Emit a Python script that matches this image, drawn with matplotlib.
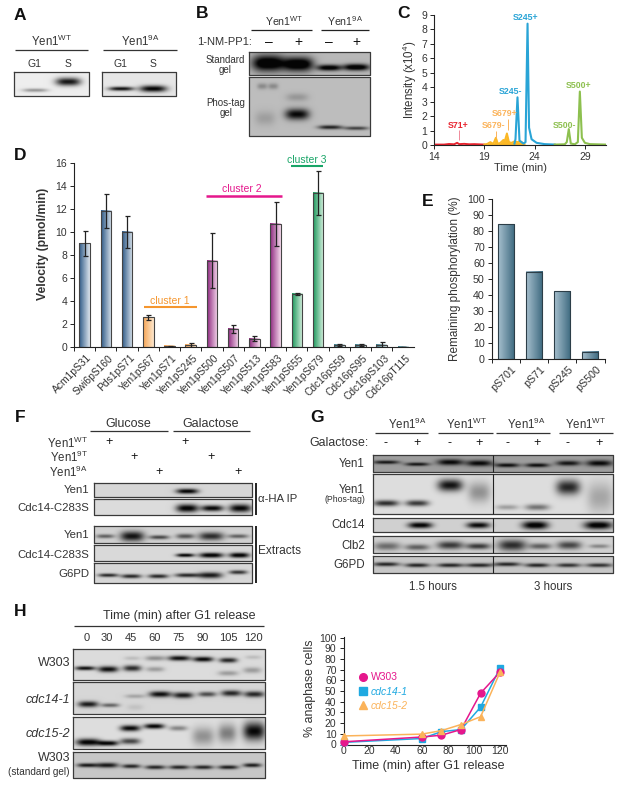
import matplotlib
matplotlib.use("Agg")
import matplotlib.pyplot as plt
from matplotlib.colors import LinearSegmentedColormap
from matplotlib.lines import Line2D
import numpy as np

plt.rcParams['font.family'] = ['Liberation Sans', 'DejaVu Sans']
plt.rcParams['mathtext.fontset'] = 'custom'
plt.rcParams['mathtext.rm'] = 'Liberation Sans'
plt.rcParams['mathtext.default'] = 'regular'

# panel C
red_t = [14, 15, 15.5, 16, 16.3, 16.5, 17, 17.5, 18, 19]
red_i = [.03, .03, .07, .05, .15, .06, .08, .05, .06, .03]
yel_t = [19, 19.3, 19.6, 19.9, 20.15, 20.35, 20.6, 20.9, 21.05, 21.25, 21.45, 21.7, 22, 22.3, 22.6, 23]
yel_i = [.03, .08, .2, .08, .5, .08, .15, .35, .3, .8, .2, .15, .25, .2, .25, .05]
blu_t = [22, 22.1, 22.3, 22.5, 22.9, 23.1, 23.3, 23.45, 23.7, 24.2, 25, 26]
blu_i = [.1, .4, 3.3, .3, .1, .2, 8.4, 1.2, .4, .15, .06, .03]
grn_t = [26, 27, 27.2, 27.4, 27.6, 28, 28.3, 28.5, 28.7, 29, 29.5, 31]
grn_i = [.03, .05, .2, 1.1, .1, .05, .2, 3.7, .5, .15, .06, .03]

# panel D
sites = ['Acm1pS31', 'Swi6pS160', 'Pds1pS71', 'Yen1pS67', 'Yen1pS71', 'Yen1pS245', 'Yen1pS500', 'Yen1pS507',
         'Yen1pS513', 'Yen1pS583', 'Yen1pS655', 'Yen1pS679', 'Cdc16pS59', 'Cdc16pS95', 'Cdc16pS103', 'Cdc16pT115']
velocity = [9.0, 11.8, 10.0, 2.6, 0.1, 0.2, 7.5, 1.6, 0.75, 10.7, 4.6, 13.4, 0.2, 0.2, 0.2, 0.03]
vel_err = [1.05, 1.45, 1.4, 0.2, 0.05, 0.15, 2.4, 0.35, 0.2, 1.9, 0.08, 1.9, 0.05, 0.1, 0.3, 0.0]
groups = ['b', 'b', 'b', 'o', 'o', 'o', 'm', 'm', 'm', 'm', 'g', 'g', 't', 't', 't', 't']

# panel E
e_sites = ['pS701', 'pS71', 'pS245', 'pS500']
remaining = [84.5, 54.5, 42.5, 4.5]

# panel H
h_time = [0, 60, 75, 90, 105, 120]
w303 = [2.5, 7, 8.7, 14, 48, 68]
cdc14 = [2, 5.6, 12, 14, 35, 72]
cdc15 = [8, 9.7, 13, 18.7, 26, 68]

TXT = '#333333'
W, H = 620, 785
fig = plt.figure(figsize=(6.2, 7.85), dpi=100)


def px_axes(x0, y0, x1, y1):
    return fig.add_axes([x0 / W, 1 - y1 / H, (x1 - x0) / W, (y1 - y0) / H])


def style(ax, size=7.5):
    ax.spines['top'].set_visible(False)
    ax.spines['right'].set_visible(False)
    for s in ['left', 'bottom']:
        ax.spines[s].set_linewidth(0.8)
        ax.spines[s].set_color('#222222')
    ax.tick_params(length=3, width=0.7, color='#222222', labelcolor=TXT, labelsize=size, pad=2)


def grad_bars(ax, xs, hs, width, lefts, rights, edge):
    for x, h, a, b in zip(xs, hs, lefts, rights):
        cm = LinearSegmentedColormap.from_list('g', [a, b])
        ax.imshow(np.linspace(0, 1, 32).reshape(1, -1), extent=[x - width / 2, x + width / 2, 0, h],
                  aspect='auto', cmap=cm, zorder=1)
    ax.bar(xs, hs, width, facecolor='none', edgecolor=edge, linewidth=0.8, zorder=2)


# C
ax = px_axes(434, 15, 606, 145)
style(ax)
ax.plot(red_t, red_i, color='#e8242f', lw=1.4)
ax.plot(yel_t, yel_i, color='#fbb826', lw=1.4)
ax.fill_between(yel_t, yel_i, color='#fbb826', lw=0)
ax.plot(blu_t, blu_i, color='#29a4d6', lw=1.5)
ax.plot(grn_t, grn_i, color='#8dc04f', lw=1.5)
ax.set_xlim(14, 31.1)
ax.set_ylim(0, 9)
ax.set_xticks([14, 19, 24, 29])
ax.set_yticks(range(10))

# D
colors_l = {'b': '#2f5a87', 'o': '#f6a656', 'm': '#8e2a80', 'g': '#1f9a5e', 't': '#3b7d8a'}
colors_r = {'b': '#dbe4ed', 'o': '#fde6cc', 'm': '#f5d8ec', 'g': '#d8f0e0', 't': '#dbe9ec'}
ax = px_axes(74, 162.7, 413.6, 347.3)
style(ax)
xs = np.arange(len(sites))
grad_bars(ax, xs, velocity, 0.5, [colors_l[g] for g in groups], [colors_r[g] for g in groups], '#444444')
ax.errorbar(xs, velocity, yerr=vel_err, fmt='none', ecolor='#222222', elinewidth=0.9, capsize=1.8, capthick=0.9, zorder=3)
ax.set_xlim(-0.5, 15.5)
ax.set_ylim(0, 16)
ax.set_xticks(xs - 0.5)
ax.set_xticklabels([])
ax.set_yticks(range(0, 17, 2))
for x, s in zip(xs, sites):
    ax.annotate(s, (x + 0.1, 0), xytext=(0, -4), textcoords='offset points', rotation=45,
                rotation_mode='anchor', ha='right', va='top', fontsize=7.4, color=TXT)
ax.set_ylabel('Velocity (pmol/min)', fontweight='bold', fontsize=8.7, color=TXT)
ax.yaxis.set_label_coords((49 - 74) / 339.6, 0.56)

# E
ax = px_axes(491.7, 199.3, 604.5, 359)
style(ax, 7.7)
xs = np.arange(len(e_sites))
grad_bars(ax, xs, remaining, 0.57, ['#a6bfcd'] * 4, ['#3e6a80'] * 4, '#2c3e48')
ax.set_xlim(-0.5, 3.5)
ax.set_ylim(0, 100)
ax.set_xticks(np.arange(5) - 0.5)
ax.set_xticklabels([])
ax.set_yticks(range(0, 101, 10))
for x, s in zip(xs, e_sites):
    ax.annotate(s, (x + 0.2, 0), xytext=(0, -4), textcoords='offset points', rotation=45,
                rotation_mode='anchor', ha='right', va='top', fontsize=7.7, color=TXT)

# H line chart
h_cols = ['#e5178c', '#1fa9e1', '#fbb35a']
h_marks = ['o', 's', '^']
ax = px_axes(343.5, 636.5, 505.7, 744.5)
style(ax)
ax.tick_params(axis='x', length=0, pad=1)
ax.plot(h_time, w303, '-o', color=h_cols[0], ms=5, lw=1.1, clip_on=False, zorder=4)
ax.plot(h_time, cdc14, '-s', color=h_cols[1], ms=4.5, lw=1.1, clip_on=False, zorder=3)
ax.plot(h_time, cdc15, '-^', color=h_cols[2], ms=5, lw=1.1, clip_on=False, zorder=5)
ax.set_xlim(0, 124.2)
ax.set_ylim(0, 101)
ax.set_xticks(range(0, 121, 20))
ax.set_yticks(range(0, 101, 10))
handles = [Line2D([], [], ls='none', marker=m, color=c, ms=5.5) for m, c in zip(h_marks, h_cols)]
leg = ax.legend(handles, ['W303', 'cdc14-1', 'cdc15-2'], loc='center left',
                bbox_to_anchor=((358 - 343.5) / 162.2, 0.49), frameon=False, fontsize=7.5,
                handletextpad=0.2, handlelength=1.0, labelspacing=0.42, borderpad=0, borderaxespad=0)
for t, c, st in zip(leg.get_texts(), h_cols, ['normal', 'italic', 'italic']):
    t.set_color(c)
    t.set_fontstyle(st)

# page overlay in pixel coordinates
pg = fig.add_axes([0, 0, 1, 1], zorder=10)
pg.set_xlim(0, W)
pg.set_ylim(H, 0)
pg.axis('off')
pg.patch.set_alpha(0)
pg.set_autoscale_on(False)


def T(x, y, s, size=8.3, ha='center', color=TXT, **kw):
    pg.text(x, y, s, fontsize=size, ha=ha, va='center', color=color, **kw)


def L(x0, y0, x1, y1, color='#333333', lw=0.9):
    pg.plot([x0, x1], [y0, y1], color=color, lw=lw, solid_capstyle='butt')


def blot(x0, y0, x1, y1, bands, bg=0.85):
    gx, gy = np.meshgrid(np.arange(x0, x1, 0.5), np.arange(y0, y1, 0.5))
    im = np.full(gx.shape, float(bg))
    for cx, cy, w, h, d in bands:
        im -= d * np.exp(-(np.abs(gx - cx) / (w / 2)) ** 3 - (np.abs(gy - cy) / (h / 2)) ** 2)
    pg.imshow(np.clip(im, 0.02, 1), extent=[x0, x1, y1, y0], cmap='gray', vmin=0, vmax=1, aspect='auto',
              interpolation='bilinear')
    pg.plot([x0, x1, x1, x0, x0], [y0, y0, y1, y1, y0], color='#3a3a3a', lw=0.9)


for x, y, s in [(20, 15, 'A'), (202, 14, 'B'), (404, 14, 'C'), (20, 155, 'D'), (428, 201, 'E'),
                (20, 418, 'F'), (317, 418, 'G'), (20, 612, 'H')]:
    T(x, y, s, size=12.5, color='#111111', fontweight='bold')

WT = 'Yen1$^{WT}$'
A9 = 'Yen1$^{9A}$'
T9 = 'Yen1$^{9T}$'

# A
T(52, 41, WT)
T(140, 41, A9)
L(15, 49.5, 88, 49.5)
L(103, 49.5, 177, 49.5)
for x, s in [(35, 'G1'), (68, 'S'), (120, 'G1'), (153, 'S')]:
    T(x, 64, s, size=7.5)
blot(14, 72, 89, 96, [(35, 90, 25, 3.5, 0.35), (68, 81.5, 25, 8, 0.85)], bg=0.93)
blot(102, 72, 176, 96, [(121, 88.5, 25, 4, 0.85), (153, 88.5, 27, 6.5, 0.9)], bg=0.9)

# B
T(284, 21, WT, size=7.7)
T(345, 21, A9, size=7.7)
L(251, 29.5, 312, 29.5, '#222222')
L(321, 29.5, 369, 29.5, '#222222')
T(252, 42, '1-NM-PP1:', size=8, ha='right')
for x, s in [(269, '–'), (298, '+'), (329, '–'), (356, '+')]:
    T(x, 42, s, size=10, color='#111111')
T(225, 60, 'Standard', size=7)
T(225, 70, 'gel', size=7)
T(226, 103, 'Phos-tag', size=7)
T(226, 113, 'gel', size=7)
blot(249, 52, 370, 75, [(268, 63, 32, 16, 0.9), (298, 64, 30, 14, 0.9), (329, 67.5, 24, 6, 0.8), (356, 67, 26, 6.5, 0.85)], bg=0.72)
blot(249, 77, 370, 136, [(262, 86, 10, 6, 0.2), (273, 86, 10, 6, 0.2), (265, 118, 20, 14, 0.12),
                         (297, 97, 22, 8, 0.15), (297, 114, 24, 11, 0.72), (330, 127, 24, 4, 0.62),
                         (356, 128, 24, 3.5, 0.5)], bg=0.74)

# C text
T(410, 80, 'Intensity (x10$^4$)', size=8.3, rotation=90)
T(520, 168, 'Time (min)', size=8)
T(526, 18, 'S245+', size=6.3, color='#29a4d6', fontweight='bold')
T(511, 91, 'S245-', size=6.3, color='#29a4d6', fontweight='bold')
T(579, 86, 'S500+', size=6.3, color='#8dc04f', fontweight='bold')
T(565, 125, 'S500-', size=6.3, color='#8dc04f', fontweight='bold')
T(505, 114, 'S679+', size=6.3, color='#fbb35a', fontweight='bold')
T(494, 125, 'S679-', size=6.3, color='#fbb35a', fontweight='bold')
T(458, 125, 'S71+', size=6.3, color='#e8242f', fontweight='bold')
L(459, 130, 459, 140, '#f08a9a', 0.7)
L(496, 131, 496, 138, '#fbb35a', 0.7)
L(507.5, 119, 507.5, 130, '#fbb35a', 0.7)

# D clusters
T(170, 301, 'cluster 1', size=7.5, color='#f5962e')
L(144, 307, 197, 307, '#f5962e', 1.5)
T(242, 189, 'cluster 2', size=7.5, color='#e5178c')
L(206, 195.5, 282, 195.5, '#e5178c', 1.8)
T(307, 160, 'cluster 3', size=7.5, color='#18a567')
L(291, 166, 323, 166, '#18a567', 1.5)

# E text
T(455, 279, 'Remaining phosphorylation (%)', size=8.5, rotation=90)

# F
T(128, 424, 'Glucose', size=9)
T(211, 424, 'Galactose', size=9)
L(90, 430.5, 168, 430.5)
L(173, 430.5, 250, 430.5)
for y, s in [(443, WT), (457, T9), (472, A9)]:
    T(88, y, s, ha='right')
for x, y in [(109, 442), (134, 457), (159, 472), (185, 442), (211, 457), (238, 472)]:
    T(x, y, '+', size=9, color='#111111')
for y, s in [(490, 'Yen1'), (508, 'Cdc14-C283S'), (535, 'Yen1'), (555, 'Cdc14-C283S'), (574, 'G6PD')]:
    T(89, y, s, size=8.2, ha='right')
blot(94, 483, 252, 497, [(187, 491, 22, 5, 0.85)], bg=0.84)
blot(94, 499, 252, 515, [(187, 508, 22, 8, 0.88), (212, 508, 22, 6, 0.85), (240, 508, 22, 8, 0.85)], bg=0.86)
blot(94, 526, 252, 543, [(105, 536, 18, 4, 0.45), (132, 536, 24, 10, 0.75), (159, 537, 20, 4, 0.55),
                         (185, 536, 18, 5, 0.5), (211, 536, 25, 8, 0.65), (238, 536, 20, 4, 0.45)], bg=0.82)
blot(94, 545, 252, 561, [(185, 555, 18, 3.5, 0.88), (211, 555, 24, 5, 0.9), (239, 555, 20, 5, 0.9)], bg=0.85)
blot(94, 563, 252, 583, [(108, 575, 20, 3.5, 0.7), (131, 576, 20, 4, 0.7), (158, 576, 20, 4, 0.7),
                         (187, 575, 24, 4, 0.7), (210, 575, 24, 6, 0.75), (238, 572, 18, 4, 0.65)], bg=0.84)
L(256, 483, 256, 515, '#111111', 1.3)
L(256, 526, 256, 583, '#111111', 1.3)
T(258, 499, 'α-HA IP', size=8.2, ha='left')
T(258, 551, 'Extracts', size=8.6, ha='left')

# G
for x, s in [(407, A9), (467, WT), (526, A9), (586, WT)]:
    T(x, 424, s)
for x0, x1 in [(375, 428), (438, 493), (496, 550), (559, 613)]:
    L(x0, 432.5, x1, 432.5)
T(369, 443, 'Galactose:', size=8.9, ha='right')
lanes = [386, 417, 450, 479, 507, 537, 568, 599]
for x, s in zip(lanes, ['-', '+', '-', '+', '-', '+', '-', '+']):
    T(x, 443, s, size=9, color='#111111')
for y, s, sz in [(464, 'Yen1', 8.3), (490, 'Yen1', 8.3), (500, '(Phos-tag)', 6.3), (525, 'Cdc14', 8.3),
                 (546, 'Clb2', 8.3), (565, 'G6PD', 8.3)]:
    T(365, y, s, size=sz, ha='right')
blot(373, 455, 613, 472, [(386, 462, 26, 3.5, 0.55), (417, 464, 24, 3.5, 0.55), (450, 462, 26, 6, 0.6),
                          (479, 463, 26, 6, 0.6), (507, 465, 24, 4, 0.58), (537, 465, 24, 4, 0.58),
                          (568, 463, 24, 5, 0.55), (599, 463, 26, 6, 0.6)], bg=0.62)
blot(373, 474, 613, 514, [(386, 503, 25, 6, 0.7), (417, 503, 23, 6, 0.65), (450, 485, 25, 12, 0.8),
                          (479, 492, 22, 20, 0.3), (507, 507, 22, 5, 0.25), (537, 507, 24, 6, 0.42),
                          (568, 487, 24, 15, 0.72), (600, 497, 26, 30, 0.22)], bg=0.87)
blot(373, 518, 613, 532, [(420, 525, 24, 6, 0.85), (478, 525, 23, 6, 0.8), (535, 525, 26, 8, 0.88), (598, 525, 28, 8, 0.88)], bg=0.82)
blot(373, 536, 613, 553, [(387, 546, 26, 8, 0.4), (417, 547, 24, 6, 0.45), (450, 545, 26, 8, 0.6), (478, 546, 24, 6, 0.6),
                          (512, 545, 28, 11, 0.65), (540, 546, 22, 6, 0.45), (569, 545, 24, 8, 0.55), (599, 546, 20, 4, 0.3)], bg=0.82)
blot(373, 556, 613, 573, [(386, 564, 26, 4, 0.65), (417, 565, 24, 4, 0.65), (450, 565, 26, 4, 0.65), (479, 565, 26, 4, 0.65),
                          (507, 564, 26, 4, 0.65), (537, 565, 24, 4, 0.65), (568, 565, 24, 4, 0.6), (599, 565, 26, 4, 0.6)], bg=0.78)
for y0, y1 in [(455, 472), (474, 514), (518, 532), (536, 553), (556, 573)]:
    L(493, y0, 493, y1, '#222222', 0.8)
T(433, 587, '1.5 hours')
T(553, 587, '3 hours')

# H blots
T(179, 616, 'Time (min) after G1 release', size=9)
L(74, 626, 264, 626)
for x, s in zip([87, 107, 131, 155, 179, 203, 228, 253], ['0', '30', '45', '60', '75', '90', '105', '120']):
    T(x, 638, s, size=8)
T(70, 663, 'W303', size=9, ha='right')
T(70, 700, 'cdc14-1', size=9, ha='right', style='italic')
T(70, 734, 'cdc15-2', size=9, ha='right', style='italic')
T(70, 758, 'W303', size=9, ha='right')
T(70, 772, '(standard gel)', size=7.2, ha='right')
blot(73, 649, 265, 680, [(85, 668, 20, 4, 0.82), (108, 669, 20, 6, 0.82), (132, 668, 18, 6, 0.7), (132, 658, 16, 4, 0.12),
                         (155, 658, 20, 5, 0.3), (155, 669, 18, 5, 0.25), (179, 658, 22, 5, 0.82), (203, 659, 20, 5, 0.85),
                         (228, 660, 18, 5, 0.72), (228, 673, 20, 5, 0.25), (253, 657, 16, 4, 0.12), (252, 670, 18, 6, 0.25)], bg=0.86)
blot(73, 682, 265, 714, [(88, 704, 20, 6, 0.75), (110, 705, 18, 4, 0.45), (135, 696, 20, 4, 0.2), (135, 707, 16, 6, 0.08),
                         (160, 694, 22, 6, 0.8), (183, 695, 20, 6, 0.75), (207, 694, 18, 5, 0.55), (231, 693, 20, 6, 0.7), (254, 694, 20, 6, 0.7)], bg=0.84)
blot(73, 717, 265, 749, [(88, 742, 24, 7, 0.9), (108, 743, 20, 5, 0.88), (130, 728, 20, 6, 0.85), (130, 741, 20, 6, 0.6),
                         (154, 726, 20, 5, 0.88), (178, 728, 18, 5, 0.35), (203, 736, 22, 18, 0.3), (227, 733, 18, 18, 0.38),
                         (254, 731, 22, 18, 0.85)], bg=0.87)
blot(73, 752, 265, 778, [(87, 765, 20, 4, 0.7), (107, 765, 22, 5, 0.7), (131, 766, 18, 4, 0.65), (155, 767, 20, 4, 0.65),
                         (179, 767, 20, 4, 0.65), (203, 767, 20, 4, 0.65), (228, 767, 20, 4, 0.68), (252, 765, 18, 4, 0.68)], bg=0.78)
T(310, 688, '% anaphase cells', size=8.9, rotation=90)
T(428, 765.5, 'Time (min) after G1 release', size=9, color='#333333')

fig.savefig('out.png', dpi=100)
